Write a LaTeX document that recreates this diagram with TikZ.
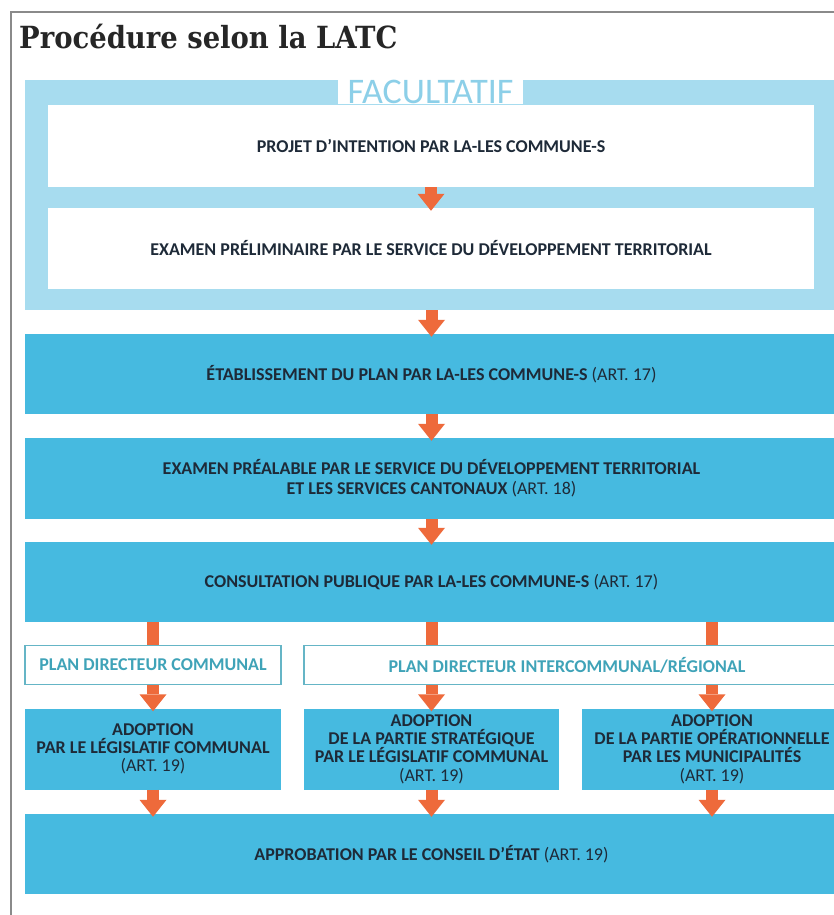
\documentclass[tikz,border=0pt]{standalone}
\usepackage{fontspec}
\setmainfont{Carlito}
\newfontfamily\titlefont{DejaVu Serif Condensed}
\usetikzlibrary{arrows.meta, positioning}

\definecolor{facblue}{HTML}{A7DCEF}
\definecolor{faclabel}{HTML}{8CCFE8}
\definecolor{stepblue}{HTML}{46BAE0}
\definecolor{flowred}{HTML}{EE6A3B}
\definecolor{planteal}{HTML}{3FA3B8}
\definecolor{inkblue}{HTML}{1E2A38}
\definecolor{framegray}{HTML}{8A8A8A}

\newcommand{\artref}[1]{{\mdseries (ART.~#1)}}

\begin{document}
\begin{tikzpicture}[
    x=1pt, y=-1pt,
    font=\bfseries\fontsize{18}{20}\selectfont,
    stepbox/.style={
        fill=stepblue,
        text=inkblue,
        minimum width=813pt,
        minimum height=80pt,
        inner sep=0pt,
        align=center
    },
    whitebox/.style={
        fill=white,
        text=inkblue,
        minimum width=766pt,
        inner sep=0pt,
        align=center
    },
    planbox/.style={
        draw=planteal!80,
        line width=1.2pt,
        fill=white,
        text=planteal,
        minimum height=39pt,
        inner sep=0pt
    },
    adoptbox/.style={
        stepbox,
        minimum height=81pt,
        font=\bfseries\fontsize{18}{18.3}\selectfont
    },
    flow/.style={
        draw=flowred,
        line width=12pt,
        -{Triangle[length=17pt, width=27pt, line width=0pt]},
        shorten >=-3pt
    },
    stem/.style={
        draw=flowred,
        line width=12pt
    }
]

    \useasboundingbox (0,0) rectangle (834,915);
    \clip (0,0) rectangle (834,915);
    \fill[white] (0,0) rectangle (834,915);

    % --- Frame and title ---
    \draw[framegray, line width=1.6pt] (11,930) |- (850,12);
    \node[anchor=base west, inner sep=0pt, text=black!85,
          font=\titlefont\bfseries\fontsize{30.5}{30.5}\selectfont]
        (title) at (19,49) {Procédure selon la LATC};

    % --- Facultatif ---
    \node[fill=facblue, minimum width=813pt, minimum height=230pt, inner sep=0pt]
        (fac) at (431.5,195) {};
    \node[whitebox, minimum height=82pt] (proj) at (431,146)
        {PROJET D’INTENTION PAR LA-LES COMMUNE-S};
    \node[whitebox, minimum height=81pt] (prelim) at (431,248.5)
        {EXAMEN PRÉLIMINAIRE PAR LE SERVICE DU DÉVELOPPEMENT TERRITORIAL};
    \node[fill=white, minimum width=185pt, minimum height=24pt, inner sep=0pt,
          text=faclabel, font=\mdseries\fontsize{36}{36}\selectfont]
        (faclbl) at (430.5,92) {\raisebox{-1.5pt}{FACULTATIF}};

    % --- Main steps ---
    \node[stepbox] (etab) at (431.5,374)
        {ÉTABLISSEMENT DU PLAN PAR LA-LES COMMUNE-S \artref{17}};
    \node[stepbox, minimum height=81pt] (exam) at (431.5,478.5)
        {EXAMEN PRÉALABLE PAR LE SERVICE DU DÉVELOPPEMENT TERRITORIAL\\
         ET LES SERVICES CANTONAUX \artref{18}};
    \node[stepbox] (consult) at (431.5,582)
        {CONSULTATION PUBLIQUE PAR LA-LES COMMUNE-S \artref{17}};

    % --- Plan types ---
    \node[planbox, minimum width=256pt] (pdcom) at (153,665)
        {PLAN DIRECTEUR COMMUNAL};
    \node[planbox, minimum width=534pt] (pdreg) at (571,665)
        {\hspace*{-8pt}PLAN DIRECTEUR INTERCOMMUNAL/RÉGIONAL};

    % --- Adoption ---
    \node[adoptbox, minimum width=256pt] (adcom) at (153,749)
        {ADOPTION\\PAR LE LÉGISLATIF COMMUNAL\\\artref{19}};
    \node[adoptbox, minimum width=255pt] (adstrat) at (431.5,749)
        {ADOPTION\\DE LA PARTIE STRATÉGIQUE\\PAR LE LÉGISLATIF COMMUNAL\\\artref{19}};
    \node[adoptbox, minimum width=260pt] (adop) at (712,749)
        {ADOPTION\\DE LA PARTIE OPÉRATIONNELLE\\PAR LES MUNICIPALITÉS\\\artref{19}};

    \node[stepbox] (approb) at (431.5,854)
        {APPROBATION PAR LE CONSEIL D’ÉTAT \artref{19}};

    % --- Connectors ---
    \draw[flow] (proj.south) -- (prelim.north);
    \draw[flow] (fac.south) -- (etab.north);
    \draw[flow] (etab.south) -- (exam.north);
    \draw[flow] (exam.south) -- (consult.north);

    \draw[stem] (consult.south -| adcom) -- (pdcom.north);
    \draw[stem] (consult.south -| adstrat) -- (pdreg.north -| adstrat);
    \draw[stem] (consult.south -| adop) -- (pdreg.north -| adop);

    \draw[flow] (pdcom.south) -- (adcom.north);
    \draw[flow] (pdreg.south -| adstrat) -- (adstrat.north);
    \draw[flow] (pdreg.south -| adop) -- (adop.north);

    \draw[flow] (adcom.south) -- (approb.north -| adcom);
    \draw[flow] (adstrat.south) -- (approb.north -| adstrat);
    \draw[flow] (adop.south) -- (approb.north -| adop);

\end{tikzpicture}
\end{document}
